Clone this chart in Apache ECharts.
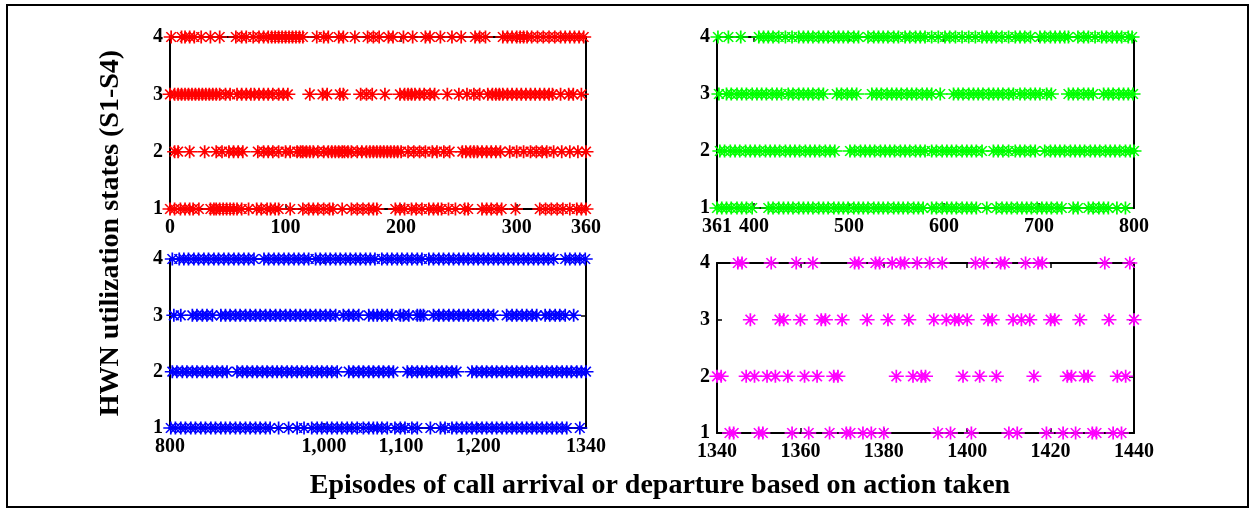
<!DOCTYPE html>
<html>
<head>
<meta charset="utf-8">
<script src="https://cdn.jsdelivr.net/npm/echarts@6/dist/echarts.min.js"></script>
<style>
  html, body { margin: 0; padding: 0; background: #ffffff; }
  #chart { width: 1254px; height: 508px; }
</style>
</head>
<body>
<div id="chart"></div>
<script>
// Episodes (call arrival / departure events) at which the HWN was in each utilization state S1..S4.

// Episodes 0 - 360
const redS1 = [0, 4, 9, 13, 17, 20, 25, 35, 38, 40, 43, 46, 49, 52, 55, 58, 62, 68, 75, 79, 84, 87, 91, 94, 104, 115, 120, 124, 128, 133, 138, 141, 149, 157, 162, 167, 172, 176, 179, 195, 199, 203, 209, 213, 218, 224, 228, 232, 235, 241, 247, 255, 258, 270, 274, 278, 283, 287, 299, 320, 325, 330, 335, 340, 346, 352, 356, 360];
const redS2 = [4, 7, 17, 30, 40, 45, 51, 55, 59, 63, 76, 81, 85, 89, 94, 100, 104, 110, 113, 115, 118, 121, 124, 128, 133, 137, 140, 143, 146, 149, 151, 154, 157, 162, 166, 170, 173, 176, 179, 182, 185, 188, 191, 194, 197, 200, 206, 211, 216, 221, 227, 231, 237, 242, 253, 256, 260, 263, 266, 270, 274, 278, 282, 286, 294, 300, 306, 312, 317, 322, 326, 332, 339, 346, 353, 360];
const redS3 = [0, 4, 7, 10, 13, 16, 19, 22, 25, 28, 31, 34, 37, 40, 43, 48, 52, 58, 62, 66, 70, 73, 77, 81, 85, 89, 94, 98, 102, 121, 132, 136, 147, 150, 165, 170, 175, 186, 199, 203, 206, 209, 212, 216, 220, 225, 229, 240, 250, 257, 263, 268, 275, 279, 282, 285, 288, 292, 296, 300, 304, 308, 312, 316, 320, 324, 328, 331, 338, 345, 349, 356];
const redS4 = [1, 10, 13, 17, 21, 27, 35, 43, 57, 62, 66, 72, 77, 81, 85, 88, 91, 94, 97, 100, 103, 106, 109, 112, 115, 127, 133, 137, 146, 150, 160, 171, 176, 181, 189, 193, 202, 210, 221, 225, 234, 244, 252, 264, 268, 273, 288, 292, 296, 300, 303, 306, 309, 313, 318, 323, 328, 333, 338, 342, 346, 350, 354, 358];

// Episodes 361 - 800
const greenS1 = [361, 366, 371, 376, 382, 387, 392, 398, 415, 420, 426, 431, 436, 441, 447, 452, 457, 462, 468, 473, 478, 484, 489, 494, 499, 505, 510, 515, 520, 526, 531, 536, 541, 547, 552, 557, 562, 568, 573, 578, 587, 592, 598, 603, 608, 613, 619, 624, 629, 634, 645, 655, 661, 666, 671, 677, 682, 687, 692, 698, 703, 708, 713, 719, 724, 736, 741, 752, 757, 763, 768, 773, 782, 791];
const greenS2 = [364, 369, 375, 380, 385, 391, 396, 401, 406, 412, 417, 422, 427, 433, 438, 443, 448, 454, 459, 464, 469, 475, 480, 485, 501, 506, 512, 517, 522, 527, 533, 538, 543, 548, 554, 559, 564, 570, 575, 580, 587, 592, 598, 603, 608, 613, 619, 624, 629, 634, 640, 652, 657, 662, 668, 675, 680, 685, 691, 696, 706, 712, 717, 722, 727, 733, 738, 743, 748, 754, 759, 764, 770, 775, 780, 785, 791, 796, 800];
const greenS3 = [363, 371, 376, 382, 387, 392, 398, 403, 408, 413, 419, 424, 429, 436, 441, 447, 452, 457, 462, 468, 473, 487, 492, 498, 503, 508, 524, 529, 534, 540, 545, 550, 555, 561, 566, 571, 577, 582, 587, 596, 610, 615, 620, 626, 631, 636, 641, 647, 652, 657, 662, 668, 673, 680, 685, 691, 696, 701, 708, 713, 731, 736, 741, 747, 752, 757, 768, 773, 778, 784, 789, 794, 799];
const greenS4 = [362, 373, 386, 405, 410, 415, 420, 426, 433, 440, 447, 452, 457, 462, 468, 473, 478, 484, 489, 494, 499, 505, 510, 520, 526, 531, 536, 541, 547, 552, 559, 564, 570, 575, 580, 587, 594, 601, 606, 612, 619, 626, 633, 640, 645, 650, 655, 661, 668, 675, 680, 685, 691, 701, 706, 712, 717, 722, 727, 731, 741, 747, 752, 759, 766, 771, 777, 782, 787, 794, 798];

// Episodes 800 - 1340
const blueS1 = [801, 807, 814, 820, 827, 833, 840, 846, 853, 859, 866, 872, 878, 885, 891, 898, 904, 911, 917, 924, 930, 941, 954, 965, 974, 984, 991, 997, 1004, 1010, 1017, 1023, 1030, 1036, 1043, 1051, 1058, 1064, 1069, 1075, 1082, 1092, 1099, 1105, 1114, 1121, 1138, 1151, 1157, 1166, 1172, 1179, 1185, 1192, 1198, 1205, 1211, 1218, 1224, 1231, 1237, 1244, 1250, 1257, 1263, 1270, 1276, 1283, 1289, 1296, 1302, 1309, 1315, 1332];
const blueS2 = [803, 809, 816, 822, 829, 835, 842, 848, 855, 861, 868, 874, 887, 894, 900, 907, 913, 920, 926, 933, 939, 945, 952, 958, 965, 971, 978, 984, 991, 997, 1004, 1010, 1017, 1032, 1038, 1045, 1051, 1058, 1064, 1071, 1077, 1084, 1090, 1108, 1114, 1121, 1127, 1133, 1140, 1146, 1153, 1159, 1166, 1172, 1192, 1198, 1205, 1211, 1218, 1224, 1231, 1237, 1244, 1250, 1257, 1263, 1270, 1276, 1283, 1289, 1296, 1302, 1309, 1315, 1321, 1328, 1334, 1340];
const blueS3 = [805, 814, 829, 835, 842, 848, 855, 866, 872, 878, 885, 891, 898, 904, 911, 917, 924, 930, 937, 943, 950, 956, 963, 969, 976, 982, 989, 995, 1002, 1008, 1015, 1025, 1032, 1038, 1045, 1058, 1064, 1069, 1075, 1082, 1088, 1099, 1103, 1110, 1121, 1125, 1129, 1142, 1149, 1155, 1162, 1168, 1175, 1181, 1187, 1194, 1200, 1207, 1213, 1220, 1237, 1244, 1250, 1257, 1263, 1270, 1276, 1287, 1293, 1300, 1306, 1313, 1324];
const blueS4 = [803, 812, 818, 824, 831, 837, 844, 850, 857, 863, 870, 876, 883, 889, 896, 902, 909, 922, 928, 935, 941, 948, 954, 961, 967, 974, 980, 989, 995, 1002, 1008, 1015, 1021, 1028, 1034, 1041, 1047, 1054, 1060, 1066, 1075, 1082, 1088, 1095, 1101, 1108, 1114, 1121, 1127, 1136, 1142, 1149, 1155, 1162, 1168, 1175, 1181, 1187, 1194, 1200, 1207, 1213, 1220, 1226, 1233, 1239, 1246, 1252, 1259, 1265, 1272, 1278, 1285, 1291, 1298, 1313, 1319, 1326, 1332, 1339];

// Episodes 1340 - 1440
const magentaS1 = [1343, 1344, 1350, 1351, 1358, 1362, 1367, 1371, 1372, 1375, 1377, 1380, 1393, 1396, 1401, 1410, 1412, 1419, 1423, 1426, 1430, 1431, 1435, 1437];
const magentaS2 = [1340, 1341, 1347, 1349, 1352, 1354, 1357, 1361, 1364, 1368, 1369, 1383, 1387, 1389, 1390, 1399, 1403, 1407, 1416, 1424, 1425, 1428, 1429, 1436, 1438];
const magentaS3 = [1348, 1355, 1356, 1360, 1365, 1366, 1370, 1376, 1381, 1386, 1392, 1395, 1397, 1398, 1400, 1405, 1406, 1411, 1413, 1415, 1420, 1421, 1427, 1434, 1440];
const magentaS4 = [1345, 1346, 1353, 1359, 1363, 1373, 1374, 1378, 1379, 1382, 1384, 1385, 1388, 1391, 1394, 1402, 1404, 1408, 1409, 1414, 1417, 1418, 1433, 1439];

// Axis ticks and their printed labels
const stateTicks = [1, 2, 3, 4];
const ticks1 = [0, 100, 200, 300, 360];
const labels1 = ['0', '100', '200', '300', '360'];
const ticks2 = [361, 400, 500, 600, 700, 800];
const labels2 = ['361', '400', '500', '600', '700', '800'];
const ticks3 = [800, 1000, 1100, 1200, 1340];
const labels3 = ['800', '1,000', '1,100', '1,200', '1340'];
const ticks4 = [1340, 1360, 1380, 1400, 1420, 1440];
const labels4 = ['1340', '1360', '1380', '1400', '1420', '1440'];

const yTitle = 'HWN utilization states (S1-S4)';
const xTitle = 'Episodes of call arrival or departure based on action taken';

const FONT = '"Liberation Serif", "Times New Roman", serif';
// eight-armed asterisk marker, a little wider than tall
const STAR = 'path://M0,6 L14,6 M7,0 L7,12 M2.5,1.5 L11.5,10.5 M2.5,10.5 L11.5,1.5';

const panels = [
  { color: '#ff0000', rows: [redS1, redS2, redS3, redS4], min: 0, max: 360, ticks: ticks1, labels: labels1,
    grid: { left: 170, top: 37, width: 416, height: 172 } },
  { color: '#00ff00', rows: [greenS1, greenS2, greenS3, greenS4], min: 361, max: 800, ticks: ticks2, labels: labels2,
    grid: { left: 717, top: 37, width: 417, height: 171 } },
  { color: '#0000ff', rows: [blueS1, blueS2, blueS3, blueS4], min: 800, max: 1340, ticks: ticks3, labels: labels3,
    grid: { left: 170, top: 259, width: 416, height: 169 } },
  { color: '#ff00ff', rows: [magentaS1, magentaS2, magentaS3, magentaS4], min: 1340, max: 1440, ticks: ticks4, labels: labels4,
    grid: { left: 717, top: 263, width: 417, height: 170 } }
];

const grids = [], xAxes = [], yAxes = [], series = [];
const lineStyle = { color: '#000', width: 2 };
const tickStyle = { color: '#000', width: 1.5 };
const labelStyle = { color: '#000', fontFamily: FONT, fontWeight: 'bold', fontSize: 20 };

panels.forEach((p, i) => {
  grids.push(Object.assign({ show: false, outerBoundsMode: 'none', containLabel: false }, p.grid));
  const xBase = {
    type: 'value', gridIndex: i, min: p.min, max: p.max,
    splitLine: { show: false },
    axisLine: { show: true, onZero: false, lineStyle: lineStyle },
    axisTick: { show: true, inside: true, length: 5, customValues: p.ticks, lineStyle: tickStyle }
  };
  xAxes.push(Object.assign({}, xBase, {
    position: 'bottom',
    axisLabel: Object.assign({
      margin: 9, customValues: p.ticks, hideOverlap: false,
      formatter: v => p.labels[p.ticks.indexOf(v)]
    }, labelStyle)
  }));
  xAxes.push(Object.assign({}, xBase, { position: 'top', axisLabel: { show: false } }));
  const yBase = {
    type: 'value', gridIndex: i, min: 1, max: 4, interval: 1,
    splitLine: { show: false },
    axisLine: { show: true, onZero: false, lineStyle: lineStyle },
    axisTick: { show: true, inside: true, length: 5, customValues: stateTicks, lineStyle: tickStyle }
  };
  yAxes.push(Object.assign({}, yBase, {
    position: 'left',
    axisLabel: Object.assign({ margin: 7, customValues: stateTicks }, labelStyle)
  }));
  yAxes.push(Object.assign({}, yBase, { position: 'right', axisLabel: { show: false } }));

  p.rows.forEach((xs, k) => {
    series.push({
      type: 'scatter',
      xAxisIndex: 2 * i, yAxisIndex: 2 * i,
      symbol: STAR, symbolSize: [15, 13],
      itemStyle: { color: p.color, borderColor: p.color, borderWidth: 1.6, opacity: 1 },
      emphasis: { disabled: true },
      data: xs.map(x => [x, stateTicks[k]])
    });
  });
});

const chart = echarts.init(document.getElementById('chart'), null, { renderer: 'canvas' });
chart.setOption({
  animation: false,
  backgroundColor: '#ffffff',
  grid: grids,
  xAxis: xAxes,
  yAxis: yAxes,
  series: series,
  graphic: [
    { type: 'rect', shape: { x: 7, y: 5, width: 1241, height: 502 },
      style: { fill: 'none', stroke: '#000', lineWidth: 2 }, silent: true },
    { type: 'text', x: 111, y: 233, rotation: Math.PI / 2,
      style: { text: yTitle, font: 'bold 28px ' + FONT, fill: '#000', textAlign: 'center', textVerticalAlign: 'middle' } },
    { type: 'text', x: 660, y: 486,
      style: { text: xTitle, font: 'bold 28px ' + FONT, fill: '#000', textAlign: 'center', textVerticalAlign: 'middle' } }
  ]
});
</script>
</body>
</html>
